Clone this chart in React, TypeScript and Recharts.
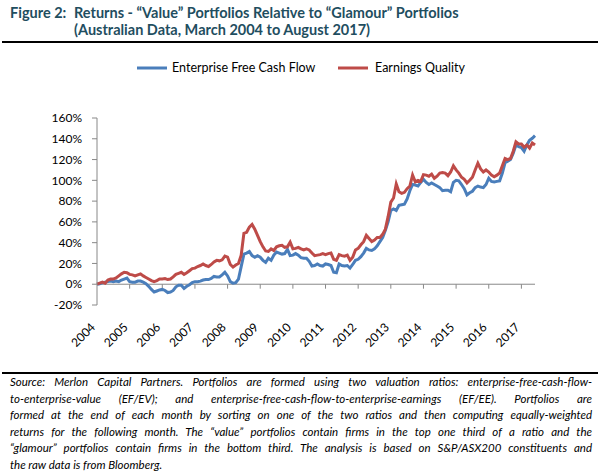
import React from "react";
import { LineChart, Line, XAxis, YAxis, ReferenceLine, Legend } from "recharts";

// Monthly cumulative relative returns (%), March 2004 .. August 2017
const efcf: number[] = [
  0, 0.5, 1.5, 2, 2.5, 3, 2.5, 3, 2.5, 4, 5, 6,
  2.5, 2, 2, 3, 3, 2, 0.5, -2, -5, -7.5, -6.5, -5.5,
  -5, -6, -8, -7.5, -6, -2.5, -1, -1, -4, -2, -0.5, 1.5,
  2.5, 2.5, 3, 4, 4.5, 4.5, 5.5, 7.5, 7, 7, 9, 11.5,
  8, 2.5, 1, 1.5, 5, 17, 29, 30, 31.5, 27.5, 26, 27.5,
  26, 23, 21, 25, 23, 28, 31, 30, 29, 29.5, 33.5, 27.5,
  28, 29.5, 28, 25.5, 25, 25, 22, 17.5, 18, 19.5, 18, 17.5,
  19.5, 19, 18, 11.5, 11, 19.5, 18, 17.5, 18, 15.5, 19, 23,
  24, 26.5, 30, 34.5, 33, 32.5, 34, 37, 41, 45, 52, 60,
  71, 72.5, 71, 76, 76.5, 77, 82, 90, 96, 95.5, 94.5, 98,
  101, 98, 96, 97.5, 96, 94.5, 93, 90, 90.5, 90.5, 89, 98,
  100, 99.5, 96, 92, 86, 88, 89.5, 93, 94.5, 93.5, 93, 96,
  102, 99, 98.5, 99, 99.5, 107, 117, 118.5, 120, 126, 134, 132.5,
  131.5, 128, 134, 138.5, 140.5, 143,
];

const earningsQuality: number[] = [
  0, 1, 2, 1, 4, 5, 5, 6, 8, 10, 11.5, 11,
  9.5, 9, 8, 9, 10, 8, 6.5, 5, 3.5, 2.5, 3.5, 5,
  5, 5.5, 4.5, 5, 7, 9.5, 10.5, 11.5, 9.5, 11, 13, 15,
  15.5, 17, 18, 19.5, 18, 17, 19, 21.5, 23, 22.5, 23.5, 27,
  26, 19, 16.5, 18.5, 20, 28, 49, 50, 55, 57.5, 53, 47,
  41, 36, 32, 31.5, 34, 32.5, 36, 37, 37.5, 35.5, 36, 40.5,
  34, 34.5, 35.5, 34, 33, 34, 33, 30, 27.5, 28, 28.5, 29.5,
  28.5, 29.5, 30, 24, 23, 28.5, 27.5, 27, 28, 23, 26, 33,
  34.5, 38, 41, 47, 44, 41, 42.5, 45, 45, 48, 53, 65,
  79, 83, 96.5, 89, 87.5, 88.5, 92, 94.5, 105, 98.5, 100, 99,
  105.5, 105, 104, 106, 102, 104, 107, 107.5, 107, 104.5, 108, 114,
  110, 107, 103, 101, 97.5, 100, 103, 110, 116.5, 111, 108, 110,
  108, 105, 103.5, 105, 107, 114, 121, 120, 121, 128, 137, 135,
  135, 132, 134, 131, 136, 134,
];

const yearLabels: string[] = [
  "2004", "2005", "2006", "2007", "2008", "2009", "2010",
  "2011", "2012", "2013", "2014", "2015", "2016", "2017",
];

const yTicks: number[] = [-20, 0, 20, 40, 60, 80, 100, 120, 140, 160];

const seriesNames = ["Enterprise Free Cash Flow", "Earnings Quality"];
const seriesColors = ["#4A7EBB", "#BE4B48"];

const footnoteLines: string[] = [
  "Source: Merlon Capital Partners. Portfolios are formed using two valuation ratios: enterprise-free-cash-flow-",
  "to-enterprise-value (EF/EV); and enterprise-free-cash-flow-to-enterprise-earnings (EF/EE). Portfolios are",
  "formed at the end of each month by sorting on one of the two ratios and then computing equally-weighted",
  "returns for the following month. The \u201cvalue\u201d portfolios contain firms in the top one third of a ratio and the",
  "\u201cglamour\u201d portfolios contain firms in the bottom third. The analysis is based on S&P/ASX200 constituents and",
  "the raw data is from Bloomberg.",
];

const data = efcf.map((v, i) => ({ i, efcf: v, eq: earningsQuality[i] }));
const tickIdx = yearLabels.map((_, k) => k * 12);

const FONT = "Lato, 'Open Sans', sans-serif";

const XTick = (props: any) => {
  const { x, y, payload } = props;
  const label = yearLabels[Math.round(payload.value / 12)];
  return (
    <text
      transform={`translate(${x - 1},${y + 15}) rotate(-45)`}
      textAnchor="end"
      fontSize={12}
      fontFamily={FONT}
      fill="#000"
    >
      {label}
    </text>
  );
};

const LegendContent = () => (
  <svg width={602} height={20}>
    <line x1={137} y1={10} x2={167} y2={10} stroke={seriesColors[0]} strokeWidth={3} />
    <text x={172} y={14} fontSize={12.5} fontFamily={FONT} fill="#000">
      {seriesNames[0]}
    </text>
    <line x1={338} y1={10} x2={368} y2={10} stroke={seriesColors[1]} strokeWidth={3} />
    <text x={375} y={14} fontSize={12.5} fontFamily={FONT} fill="#000">
      {seriesNames[1]}
    </text>
  </svg>
);

export default function App() {
  return (
    <div
      style={{
        position: "absolute",
        left: 0,
        top: 0,
        width: 602,
        height: 473,
        background: "#fff",
        fontFamily: FONT,
        overflow: "hidden",
      }}
    >
      <div
        style={{
          position: "absolute",
          left: 10,
          top: 4,
          width: 590,
          display: "flex",
          color: "#1F4E5F",
          fontWeight: 700,
          fontSize: 14.5,
          lineHeight: "17px",
          whiteSpace: "nowrap",
        }}
      >
        <div style={{ width: 64, flexShrink: 0 }}>Figure 2:</div>
        <div>
          <div>Returns - {"\u201cValue\u201d"} Portfolios Relative to {"\u201cGlamour\u201d"} Portfolios</div>
          <div>(Australian Data, March 2004 to August 2017)</div>
        </div>
      </div>
      <div style={{ position: "absolute", left: 2, top: 41, width: 596, height: 1.5, background: "#000" }} />

      <div style={{ position: "absolute", left: 0, top: 0 }}>
        <LineChart
          width={602}
          height={473}
          data={data}
          margin={{ top: 95, right: 67, bottom: 118, left: 37 }}
        >
          <XAxis
            dataKey="i"
            type="number"
            domain={[0, 161]}
            ticks={tickIdx}
            interval={0}
            axisLine={false}
            tickLine={false}
            height={50}
            tick={<XTick />}
          />
          <YAxis
            type="number"
            domain={[-20, 160]}
            ticks={yTicks}
            interval={0}
            width={60}
            tickSize={5}
            tickMargin={10}
            axisLine={{ stroke: "#888888", strokeWidth: 1 }}
            tickLine={{ stroke: "#888888" }}
            tickFormatter={(v: number) => `${v}%`}
            tick={{ fontSize: 12, fontFamily: FONT, fill: "#000" }}
          />
          <ReferenceLine y={0} stroke="#888888" strokeWidth={1} />
          {tickIdx.slice(1).map((t) => (
            <ReferenceLine
              key={t}
              segment={[
                { x: t, y: 0 },
                { x: t, y: -4.3 },
              ]}
              stroke="#888888"
              strokeWidth={1}
            />
          ))}
          <Legend verticalAlign="top" content={<LegendContent />} wrapperStyle={{ top: 58, left: 0 }} />
          <Line
            type="linear"
            dataKey="efcf"
            name={seriesNames[0]}
            stroke={seriesColors[0]}
            strokeWidth={3}
            dot={false}
            isAnimationActive={false}
          />
          <Line
            type="linear"
            dataKey="eq"
            name={seriesNames[1]}
            stroke={seriesColors[1]}
            strokeWidth={3}
            dot={false}
            isAnimationActive={false}
          />
        </LineChart>
      </div>

      <div style={{ position: "absolute", left: 2, top: 372, width: 596, height: 1.5, background: "#000" }} />
      <div
        style={{
          position: "absolute",
          left: 10,
          top: 374,
          width: 582,
          fontStyle: "italic",
          fontSize: 11.5,
          lineHeight: "16.5px",
          color: "#000",
        }}
      >
        {footnoteLines.map((l, k) => (
          <div
            key={k}
            style={{
              textAlign: "justify",
              textAlignLast: k < footnoteLines.length - 1 ? "justify" : "left",
              whiteSpace: "nowrap",
            }}
          >
            {l}
          </div>
        ))}
      </div>
    </div>
  );
}
